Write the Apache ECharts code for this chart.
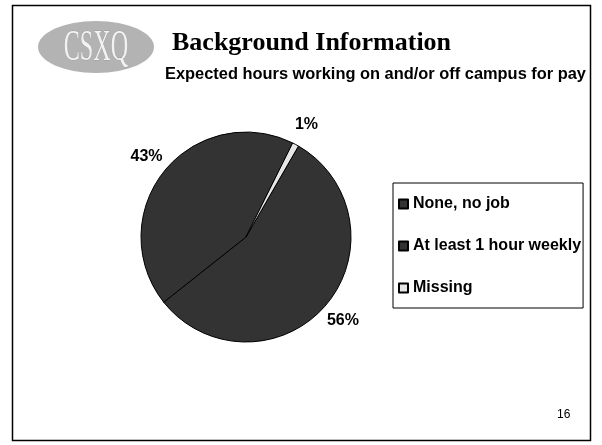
<!DOCTYPE html>
<html><head><meta charset="utf-8">
<script src="https://cdn.jsdelivr.net/npm/echarts@6/dist/echarts.min.js"></script>
<style>html,body{margin:0;padding:0;background:#fff}#c{width:602px;height:445px}</style>
</head><body><div id="c"></div>
<script>
const categories = ["None, no job", "At least 1 hour weekly", "Missing"];
const values = [56, 43, 1];
const colors = ["#333333", "#333333", "#e6e6e6"];
const titleText = "Background Information";
const subtitleText = "Expected hours working on and/or off campus for pay";
const pageNumber = "16";

const CX = 246, CY = 237, R = 105, LABEL_R = 128;

const chart = echarts.init(document.getElementById('c'), null, {renderer: 'canvas'});
chart.setOption({
  animation: false,
  backgroundColor: '#fff',
  graphic: [
    {type: 'rect', shape: {x: 12.5, y: 5.5, width: 578, height: 435}, style: {fill: 'none', stroke: '#000', lineWidth: 1.5}},
    {type: 'ellipse', shape: {cx: 96, cy: 47, rx: 58, ry: 26}, style: {fill: '#b3b3b3'}},
    {type: 'text', x: 96, y: 48, scaleX: 0.55,
      style: {text: 'CSXQ', font: '44px "Liberation Serif"', fill: '#f2f2f2', stroke: '#8c8c8c', lineWidth: 0.6, align: 'center', verticalAlign: 'middle'}},
    {type: 'text', x: 172, y: 43, style: {text: titleText, font: 'bold 26px "Liberation Serif"', fill: '#000', verticalAlign: 'middle'}},
    {type: 'text', x: 165, y: 75, scaleX: 1.025, style: {text: subtitleText, font: 'bold 16px "Liberation Sans"', fill: '#000', verticalAlign: 'middle'}},
    {type: 'text', x: 557, y: 415, style: {text: pageNumber, font: '12px "Liberation Sans"', fill: '#000', verticalAlign: 'middle'}}
  ],
  legend: {
    orient: 'vertical',
    left: 393, top: 183,
    padding: [13, 2, 12, 5],
    borderColor: '#000', borderWidth: 1,
    itemWidth: 9, itemHeight: 9, itemGap: 26,
    icon: 'rect',
    textStyle: {fontFamily: 'Liberation Sans', fontWeight: 'bold', fontSize: 16, lineHeight: 16, color: '#000'},
    data: categories
  },
  series: [{
    type: 'pie',
    center: [CX, CY],
    radius: R,
    startAngle: 60,
    clockwise: true,
    color: colors,
    itemStyle: {borderColor: '#000', borderWidth: 1},
    label: {show: true, position: 'outside', formatter: p => p.value + '%', fontFamily: 'Liberation Sans', fontWeight: 'bold', fontSize: 16, color: '#000'},
    labelLine: {show: false, length: 8, length2: 0},
    labelLayout: function (params) {
      const pts = params.labelLinePoints;
      if (!pts) return {};
      const dx = pts[0][0] - CX, dy = pts[0][1] - CY;
      const d = Math.sqrt(dx * dx + dy * dy) || 1;
      return {x: CX + dx / d * LABEL_R, y: CY + dy / d * LABEL_R, align: 'center', verticalAlign: 'middle'};
    },
    emphasis: {disabled: true},
    data: categories.map((c, i) => ({name: c, value: values[i]}))
  }]
});
</script></body></html>
